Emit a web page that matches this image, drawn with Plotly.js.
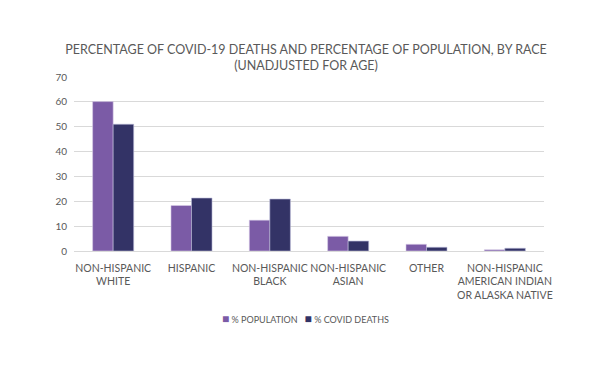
<!DOCTYPE html>
<html><head><meta charset="utf-8">
<script src="https://cdn.plot.ly/plotly-3.0.1.min.js"></script>
<style>html,body{margin:0;padding:0;background:#fff}#chart{width:612px;height:367px}</style>
</head><body><div id="chart"></div>
<script>
var categories = ["NON-HISPANIC<br>WHITE", "HISPANIC", "NON-HISPANIC<br>BLACK", "NON-HISPANIC<br>ASIAN", "OTHER", "NON-HISPANIC<br>AMERICAN INDIAN<br>OR ALASKA NATIVE"];
var populationPct = [60.1, 18.3, 12.4, 5.9, 2.7, 0.5];
var deathsPct = [51.0, 21.3, 20.9, 4.0, 1.5, 1.1];
var seriesNames = ["% POPULATION", "% COVID DEATHS"];
var seriesColors = ["#7B5BA6", "#333366"];

var font = "Lato, 'Open Sans', sans-serif";
var traces = [
  {type: "bar", x: categories, y: populationPct, name: seriesNames[0],
   marker: {color: seriesColors[0], line: {color: "#d8cce8", width: 0.6}}},
  {type: "bar", x: categories, y: deathsPct, name: seriesNames[1],
   marker: {color: seriesColors[1], line: {color: "#b9b9d6", width: 0.6}}}
];
var sq = function (c) { return "<span style='color:" + c + ";font-size:12px'>■</span>"; };
var legendText = sq(seriesColors[0]) + " " + seriesNames[0] +
  "&nbsp;&nbsp;&nbsp;" + sq(seriesColors[1]) + " " + seriesNames[1];
var layout = {
  width: 612, height: 367,
  margin: {l: 74, r: 68, t: 77, b: 116},
  paper_bgcolor: "#fff", plot_bgcolor: "#fff",
  font: {family: font, color: "#595959", size: 10},
  title: {text: "PERCENTAGE OF COVID-19 DEATHS AND PERCENTAGE OF POPULATION, BY RACE<br>(UNADJUSTED FOR AGE)",
          font: {family: font, size: 12.5, color: "#595959"}, x: 0.5, xanchor: "center", y: 0.853, yanchor: "middle"},
  barmode: "group", bargap: 0.476, bargroupgap: 0,
  xaxis: {type: "category", showgrid: false, showline: true, linecolor: "#d9d9d9", linewidth: 1,
          ticks: "", ticklabelstandoff: 7, tickfont: {size: 10.5, color: "#595959"}, automargin: false},
  yaxis: {range: [0, 70], dtick: 10, showgrid: true, gridcolor: "#d9d9d9", gridwidth: 1,
          zeroline: false, showline: false, ticks: "", ticklen: 0, ticklabelstandoff: 6,
          tickfont: {size: 10, color: "#595959"}, automargin: false},
  showlegend: false,
  annotations: [{text: legendText, xref: "paper", yref: "paper", x: (305 - 74) / 470, y: -0.39,
                 xanchor: "center", yanchor: "middle", showarrow: false,
                 font: {family: font, size: 9, color: "#595959"}}]
};
Plotly.newPlot("chart", traces, layout, {displayModeBar: false, staticPlot: true});
</script></body></html>
